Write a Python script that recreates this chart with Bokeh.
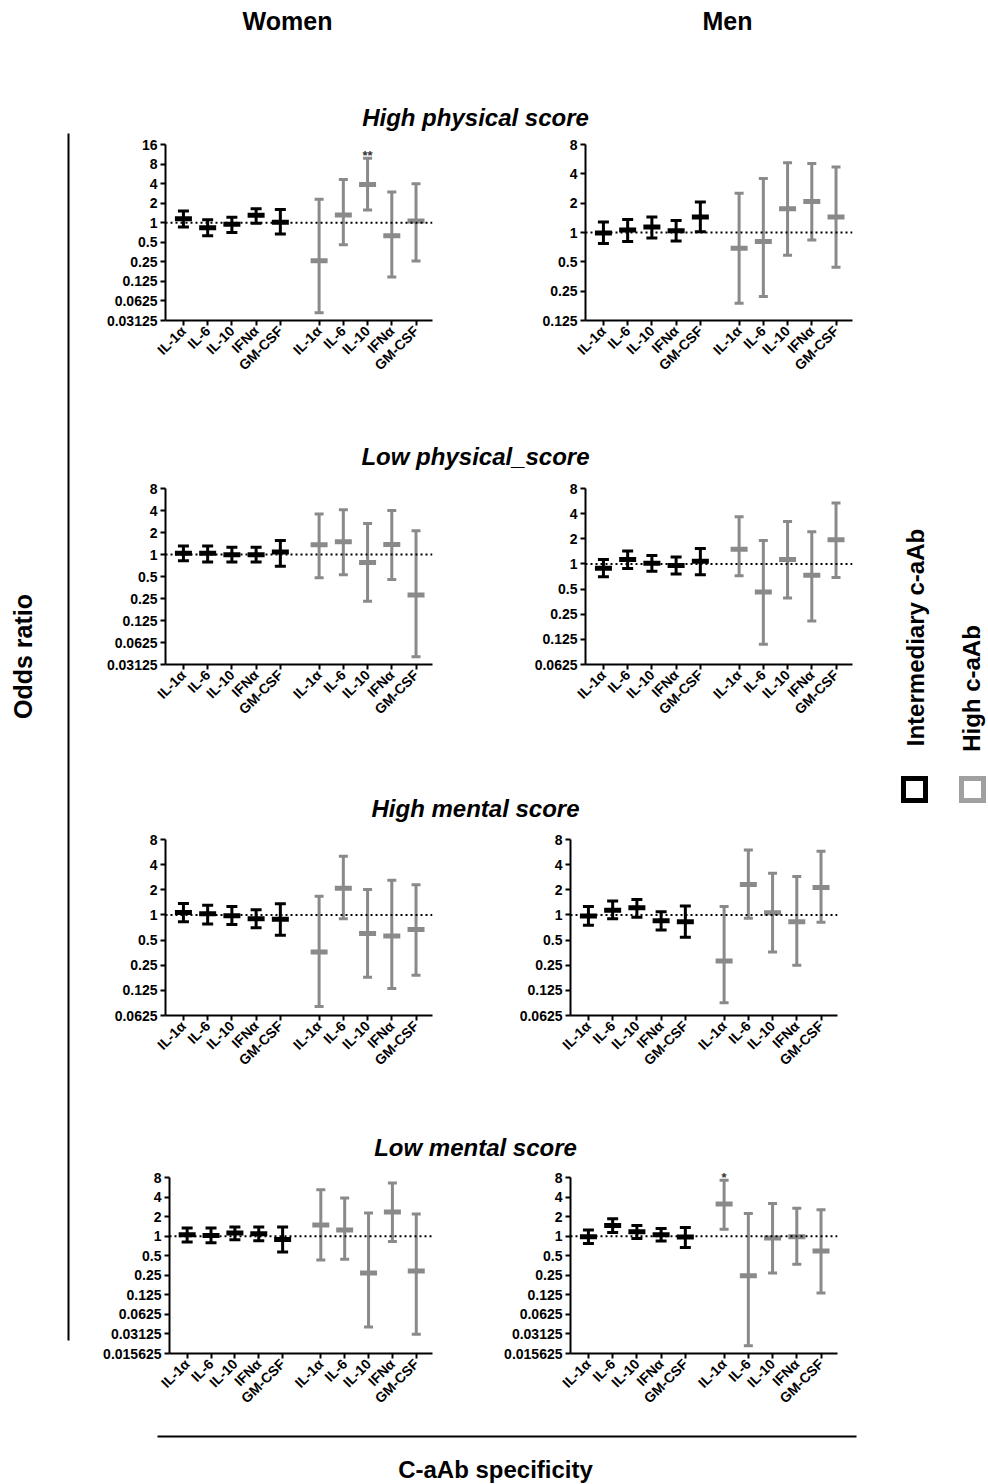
from math import pi, log2
from bokeh.plotting import figure
from bokeh.layouts import row, column
from bokeh.models import FixedTicker, Range1d, Span, ColumnDataSource
from bokeh.core.properties import value
from bokeh.embed import file_html
from bokeh.resources import INLINE

# ---------------- data ----------------
cytokines = ["IL-1α", "IL-6", "IL-10", "IFNα", "GM-CSF"]
tick_labels = cytokines + cytokines          # intermediary group, then high group
legend_labels = ["Intermediary c-aAb", "High c-aAb"]
row_titles = ["High physical score", "Low physical_score", "High mental score", "Low mental score"]
col_titles = ["Women", "Men"]

# odds ratio, lower CI, upper CI (first 5: intermediary c-aAb, last 5: high c-aAb)
women_high_physical_or = [1.15, 0.84, 0.95, 1.30, 1.02, 0.26, 1.31, 3.89, 0.63, 1.06]
women_high_physical_lo = [0.86, 0.63, 0.71, 0.98, 0.67, 0.041, 0.46, 1.57, 0.146, 0.257]
women_high_physical_hi = [1.52, 1.11, 1.21, 1.64, 1.60, 2.29, 4.64, 9.86, 2.96, 3.98]

men_high_physical_or = [0.99, 1.06, 1.14, 1.04, 1.44, 0.69, 0.81, 1.75, 2.08, 1.44]
men_high_physical_lo = [0.77, 0.81, 0.88, 0.82, 1.02, 0.188, 0.22, 0.585, 0.84, 0.44]
men_high_physical_hi = [1.28, 1.36, 1.44, 1.33, 2.05, 2.53, 3.58, 5.19, 5.10, 4.69]

women_low_physical_or = [1.04, 1.04, 0.99, 0.99, 1.08, 1.36, 1.49, 0.78, 1.37, 0.28]
women_low_physical_lo = [0.82, 0.79, 0.79, 0.79, 0.69, 0.48, 0.53, 0.23, 0.455, 0.040]
women_low_physical_hi = [1.31, 1.31, 1.26, 1.26, 1.56, 3.58, 4.10, 2.66, 4.00, 2.11]

men_low_physical_or = [0.89, 1.13, 1.02, 0.96, 1.08, 1.50, 0.46, 1.13, 0.73, 1.95]
men_low_physical_lo = [0.70, 0.88, 0.82, 0.76, 0.74, 0.72, 0.109, 0.39, 0.208, 0.69]
men_low_physical_hi = [1.13, 1.43, 1.26, 1.21, 1.53, 3.68, 1.91, 3.23, 2.43, 5.37]

women_high_mental_or = [1.07, 1.03, 0.98, 0.90, 0.89, 0.36, 2.08, 0.60, 0.56, 0.67]
women_high_mental_lo = [0.83, 0.78, 0.77, 0.70, 0.57, 0.080, 0.90, 0.18, 0.132, 0.19]
women_high_mental_hi = [1.37, 1.31, 1.26, 1.15, 1.36, 1.67, 5.04, 2.01, 2.60, 2.29]

men_high_mental_or = [0.97, 1.14, 1.22, 0.85, 0.83, 0.28, 2.32, 1.06, 0.83, 2.13]
men_high_mental_lo = [0.75, 0.90, 0.94, 0.66, 0.54, 0.089, 0.91, 0.36, 0.25, 0.82]
men_high_mental_hi = [1.26, 1.47, 1.53, 1.09, 1.28, 1.26, 6.00, 3.15, 2.89, 5.80]

women_low_mental_or = [1.05, 1.02, 1.12, 1.09, 0.89, 1.49, 1.24, 0.27, 2.36, 0.29]
women_low_mental_lo = [0.81, 0.79, 0.88, 0.85, 0.57, 0.43, 0.44, 0.040, 0.83, 0.031]
women_low_mental_hi = [1.34, 1.34, 1.39, 1.39, 1.39, 5.20, 3.87, 2.28, 6.57, 2.20]

men_low_mental_or = [0.98, 1.46, 1.17, 1.05, 0.97, 3.14, 0.245, 0.94, 0.98, 0.59]
men_low_mental_lo = [0.77, 1.14, 0.92, 0.84, 0.67, 1.28, 0.0206, 0.27, 0.37, 0.133]
men_low_mental_hi = [1.24, 1.85, 1.46, 1.31, 1.36, 7.26, 2.23, 3.18, 2.70, 2.54]

# significance marks: index -> mark
women_high_physical_stars = {7: "**"}
men_low_mental_stars = {5: "*"}

# y axis extents (powers of two)
y_limits = {
    "women_high_physical": (0.03125, 16.0), "men_high_physical": (0.125, 8.0),
    "women_low_physical": (0.03125, 8.0), "men_low_physical": (0.0625, 8.0),
    "women_high_mental": (0.0625, 8.0), "men_high_mental": (0.0625, 8.0),
    "women_low_mental": (0.015625, 8.0), "men_low_mental": (0.015625, 8.0),
}

# ---------------- styling / layout ----------------
FONT = "Liberation Sans"
BLACK = "#000000"
GRAY = "#8a8a8a"
XPOS = [5, 10, 15, 20, 25, 33, 38, 43, 48, 53]
XR = (1.3, 56.4)
FRAME_H = 176
PANEL_W = 390


def blank(w, h):
    p = figure(width=w, height=h, x_range=Range1d(0, w), y_range=Range1d(0, h),
               toolbar_location=None, output_backend="svg", min_border=0,
               x_axis_location=None, y_axis_location=None, outline_line_color=None,
               background_fill_color="white", border_fill_color="white")
    p.grid.visible = False
    return p


def put_text(p, h, x, ytop, txt, size, style="bold", angle=0.0, color="black"):
    p.text(x=[x], y=[h - ytop], text=[txt], angle=angle, text_font=value(FONT),
           text_font_style=style, text_font_size=size, text_align="center",
           text_baseline="middle", text_color=color)


def panel(or_, lo, hi, ylims, stars, height, b_left, b_right, b_top, extra_px):
    ylo, yhi = ylims
    b_bottom = height - b_top - FRAME_H
    # extra headroom (in px) above the top tick so significance marks are not clipped
    factor = 2 ** (extra_px * log2(yhi / ylo) / FRAME_H)
    b_top = b_top - extra_px
    p = figure(width=PANEL_W, height=height, x_range=Range1d(*XR), y_range=Range1d(ylo, yhi * factor),
               y_axis_type="log", toolbar_location=None, output_backend="svg",
               min_border_left=b_left, min_border_right=b_right, min_border_top=b_top,
               min_border_bottom=b_bottom, outline_line_color=None,
               background_fill_color="white", border_fill_color="white")
    p.grid.visible = False
    yt = []
    v = ylo
    while v <= yhi * 1.0001:
        yt.append(v)
        v *= 2
    p.yaxis.ticker = FixedTicker(ticks=yt)
    p.yaxis.major_label_overrides = {t: f"{t:g}" for t in yt}
    p.yaxis.bounds = (ylo, yhi)
    p.xaxis.ticker = FixedTicker(ticks=XPOS)
    p.xaxis.major_label_overrides = {x: lab for x, lab in zip(XPOS, tick_labels)}
    p.xaxis.major_label_orientation = pi / 4
    for ax in (p.xaxis, p.yaxis):
        ax.axis_line_width = 2
        ax.axis_line_color = "black"
        ax.major_tick_line_width = 2
        ax.major_tick_out = 5
        ax.major_tick_in = 0
        ax.minor_tick_line_color = None
        ax.major_label_text_font = FONT
        ax.major_label_text_font_style = "bold"
        ax.major_label_text_font_size = "14px"
        ax.major_label_text_color = "black"
        ax.major_label_standoff = 3
    p.add_layout(Span(location=1, dimension="width", line_dash="2 3",
                      line_width=2, line_color="black"))
    for sl, color, cap in ((slice(0, 5), BLACK, 11), (slice(5, 10), GRAY, 9)):
        src = ColumnDataSource(dict(x=XPOS[sl], y=or_[sl], lo=lo[sl], hi=hi[sl]))
        p.segment(x0="x", y0="lo", x1="x", y1="hi", source=src, line_color=color, line_width=3)
        p.scatter(x="x", y="lo", marker="dash", size=cap, line_width=3, line_color=color, source=src)
        p.scatter(x="x", y="hi", marker="dash", size=cap, line_width=3, line_color=color, source=src)
        p.scatter(x="x", y="y", marker="dash", size=17, line_width=5, line_color=color, source=src)
    if stars:
        idx = list(stars.keys())
        p.text(x=[XPOS[i] for i in idx], y=[hi[i] for i in idx], text=[stars[i] for i in idx],
               y_offset=-3, text_font=value(FONT), text_font_style="bold", text_font_size="13px",
               text_align="center", text_baseline="alphabetic", text_color="#333333")
    return p


# row: key, figure height, frame top offset, headroom px (rows with significance marks)
row_specs = [
    ("high_physical", 305, 9, 9),
    ("low_physical", 315, 13, 0),
    ("high_mental", 304, 13, 0),
    ("low_mental", 255, 12, 12),
]
men_borders = {"high_physical": (95, 28), "low_physical": (95, 28),
               "high_mental": (80, 43), "low_mental": (80, 43)}
data = {
    "women_high_physical": (women_high_physical_or, women_high_physical_lo, women_high_physical_hi, women_high_physical_stars),
    "men_high_physical": (men_high_physical_or, men_high_physical_lo, men_high_physical_hi, None),
    "women_low_physical": (women_low_physical_or, women_low_physical_lo, women_low_physical_hi, None),
    "men_low_physical": (men_low_physical_or, men_low_physical_lo, men_low_physical_hi, None),
    "women_high_mental": (women_high_mental_or, women_high_mental_lo, women_high_mental_hi, None),
    "men_high_mental": (men_high_mental_or, men_high_mental_lo, men_high_mental_hi, None),
    "women_low_mental": (women_low_mental_or, women_low_mental_lo, women_low_mental_hi, None),
    "men_low_mental": (men_low_mental_or, men_low_mental_lo, men_low_mental_hi, men_low_mental_stars),
}

CENTER_W = 780
HEADER_H = 95
BOTTOM_H = 63
title_specs = [(40, 22), (35, 16), (36, 18), (35, 17)]

center_children = []
header = blank(CENTER_W, HEADER_H)
put_text(header, HEADER_H, 187, 20, col_titles[0], "25px")
put_text(header, HEADER_H, 627, 20, col_titles[1], "25px")
center_children.append(header)

for i, (key, h, top, extra) in enumerate(row_specs):
    th, ty = title_specs[i]
    t = blank(CENTER_W, th)
    put_text(t, th, 375, ty, row_titles[i], "24px", style="bold italic")
    center_children.append(t)
    wo, wl, wh, ws = data["women_" + key]
    mo, ml, mh, ms = data["men_" + key]
    pw = panel(wo, wl, wh, y_limits["women_" + key], ws, h, 65, 58, top, extra)
    bl, br = men_borders[key]
    pm = panel(mo, ml, mh, y_limits["men_" + key], ms, h, bl, br, top, extra)
    center_children.append(row(pw, pm, spacing=0))

bottom = blank(CENTER_W, BOTTOM_H)
bottom.line(x=[57, 756], y=[BOTTOM_H - 16, BOTTOM_H - 16], line_color="black", line_width=2)
put_text(bottom, BOTTOM_H, 395, 49, "C-aAb specificity", "24px")
center_children.append(bottom)

TOTAL_H = HEADER_H + sum(ts[0] for ts in title_specs) + sum(r[1] for r in row_specs) + BOTTOM_H

left = blank(100, TOTAL_H)
left.line(x=[68, 68], y=[TOTAL_H - 133, TOTAL_H - 1340], line_color="black", line_width=2)
put_text(left, TOTAL_H, 22, 656, "Odds ratio", "25px", angle=pi / 2)

LEG_W = 107
leg = blank(LEG_W, TOTAL_H)
put_text(leg, TOTAL_H, 35, 637, legend_labels[0], "24px", angle=pi / 2)
put_text(leg, TOTAL_H, 91, 688, legend_labels[1], "24px", angle=pi / 2)
leg.rect(x=[34, 92], y=[TOTAL_H - 789, TOTAL_H - 789], width=22, height=22,
         fill_color="white", line_color=[BLACK, "#a0a0a0"], line_width=5, line_join="miter")

layout = row(left, column(*center_children, spacing=0), leg, spacing=0)

open("out.html", "w").write(file_html(layout, INLINE))
